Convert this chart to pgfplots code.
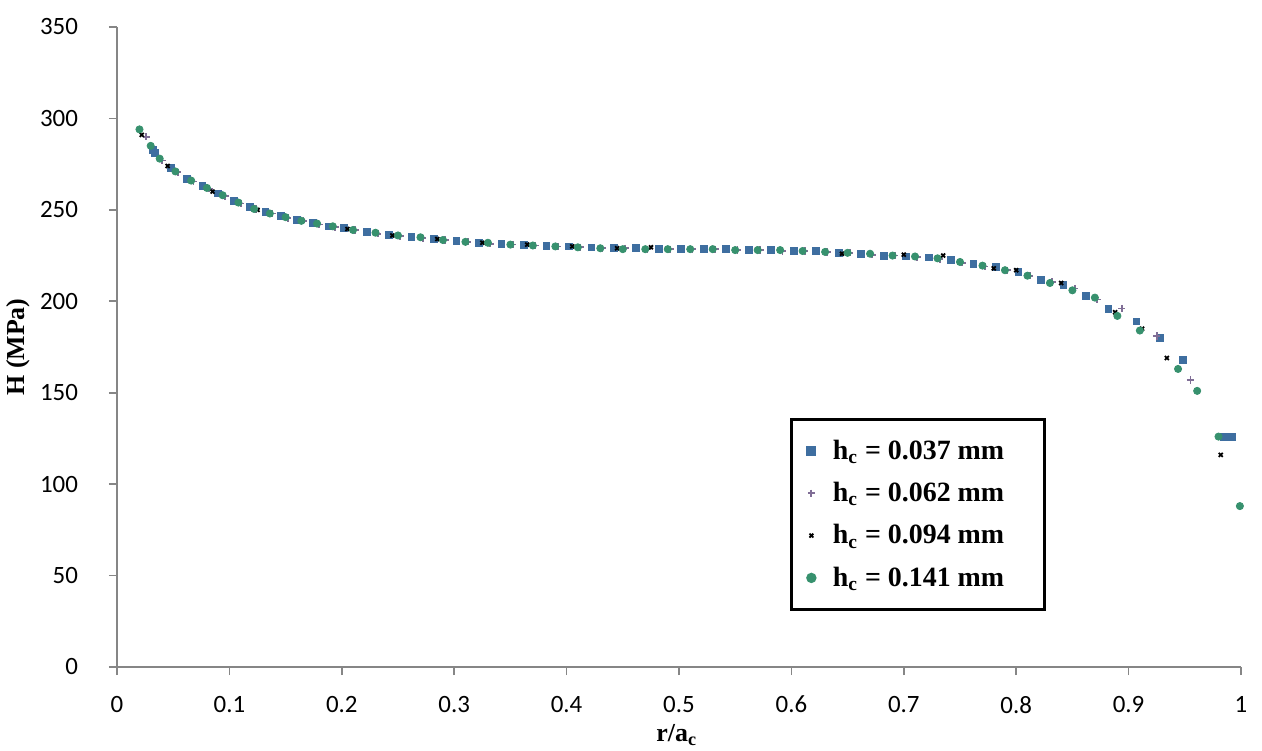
\documentclass[border=0pt]{standalone}
\usepackage{pgfplots}
\pgfplotsset{compat=1.18}
\usepackage{fontspec}
\setmainfont{Liberation Serif}
\newfontfamily\carlito{Carlito}

\definecolor{sqblue}{RGB}{62,110,160}
\definecolor{plpurple}{RGB}{128,110,150}
\definecolor{cigreen}{RGB}{55,145,110}
\definecolor{axgray}{RGB}{134,134,134}

\begin{document}
\begin{tikzpicture}
\begin{axis}[
  scale only axis,
  width=562bp, height=320bp,
  xmin=0, xmax=1, ymin=0, ymax=350,
  axis x line=bottom, axis y line=left,
  axis line style={-, axgray, line width=1bp},
  xtick={0,0.1,...,1.0}, ytick={0,50,...,350},
  tick align=outside, major tick length=4bp,
  tick style={axgray, line width=0.8bp},
  /pgf/number format/assume math mode=true,
  xticklabel style={font=\carlito\fontsize{12.5}{13}\selectfont, /pgf/number format/fixed, yshift=-7bp},
  yticklabel style={font=\carlito\fontsize{12.5}{13}\selectfont, xshift=-12bp},
  xlabel={\textbf{r/a\textsubscript{c}}},
  ylabel={\textbf{H (MPa)}},
  every axis x label/.style={at={(axis description cs:0.498,-0.106)}, anchor=center,
    font=\fontsize{13}{14}\selectfont},
  every axis y label/.style={at={(axis description cs:-0.088,0.5)}, rotate=90, anchor=center,
    font=\fontsize{13}{14}\selectfont},
  legend style={at={(axis cs:0.599,136)}, anchor=north west,
    draw=black, line width=1.5bp, font=\bfseries\fontsize{14}{15}\selectfont,
    row sep=6bp, column sep=7bp, inner xsep=8bp, inner ysep=8bp},
  legend cell align=left,
]
\addplot[only marks, mark=square*, mark size=1.7bp, color=sqblue] coordinates {
(0.032,283) (0.034,281) (0.048,273) (0.062,267) (0.076,263) (0.090,259)
(0.104,255) (0.118,251.5) (0.132,249) (0.146,246.5) (0.160,244.5) (0.174,243)
(0.188,241) (0.202,240) (0.222,238) (0.242,236.5) (0.262,235) (0.282,234)
(0.302,233) (0.322,232) (0.342,231.5) (0.362,231) (0.382,230.5) (0.402,230)
(0.422,229.5) (0.442,229) (0.462,229) (0.482,228.5) (0.502,228.5) (0.522,228.5)
(0.542,228.5) (0.562,228) (0.582,228) (0.602,227.5) (0.622,227.5) (0.642,226.5)
(0.662,226) (0.682,225) (0.702,224.5) (0.722,224) (0.742,222.5) (0.762,220.5)
(0.782,219) (0.802,216) (0.822,211.5) (0.842,209) (0.862,203) (0.882,196)
(0.907,189) (0.928,180) (0.948,168) (0.985,126) (0.992,126)
};
\addlegendentry{h\textsubscript{c} = 0.037 mm\hspace*{10bp}}
\addplot[only marks, mark=+, mark size=1.8bp, line width=0.9bp, color=plpurple] coordinates {
(0.026,290) (0.040,277) (0.054,270.5) (0.068,265.5) (0.082,261.5) (0.096,257.5)
(0.110,253.5) (0.124,250.5) (0.138,248) (0.152,245.5) (0.166,244) (0.180,242)
(0.194,240.5) (0.212,239) (0.232,237) (0.252,235.5) (0.272,234.5) (0.292,233.5)
(0.312,232.5) (0.332,231.5) (0.352,231) (0.372,230.5) (0.392,230) (0.412,229.5)
(0.432,229) (0.452,229) (0.472,228.5) (0.492,228.5) (0.512,228.5) (0.532,228.5)
(0.552,228) (0.572,228) (0.592,227.5) (0.612,227.5) (0.632,227) (0.652,226.5)
(0.672,225.5) (0.692,225) (0.712,224) (0.732,223) (0.752,221) (0.772,219)
(0.792,217) (0.812,214) (0.832,210.5) (0.852,207) (0.872,201) (0.894,196)
(0.925,181) (0.955,157)
};
\addlegendentry{h\textsubscript{c} = 0.062 mm}
\addplot[only marks, mark=x, mark size=1.4bp, line width=0.9bp, color=black] coordinates {
(0.022,291) (0.045,274) (0.085,260) (0.125,250) (0.165,244) (0.205,239.5)
(0.245,236) (0.285,234) (0.325,232) (0.365,231) (0.405,230) (0.445,229)
(0.475,229.5) (0.530,229) (0.570,228.5) (0.645,226) (0.700,225.5) (0.735,225)
(0.780,218) (0.800,217) (0.840,210) (0.888,194) (0.912,185) (0.934,169)
(0.982,116)
};
\addlegendentry{h\textsubscript{c} = 0.094 mm}
\addplot[only marks, mark=*, mark size=1.8bp, color=cigreen] coordinates {
(0.020,294) (0.030,285) (0.038,278) (0.052,271) (0.066,266) (0.080,262)
(0.094,258) (0.108,254) (0.122,250.5) (0.136,248) (0.150,246) (0.164,244)
(0.178,242.5) (0.192,241) (0.210,239) (0.230,237.5) (0.250,236) (0.270,235)
(0.290,233.5) (0.310,232.5) (0.330,232) (0.350,231) (0.370,230.5) (0.390,230)
(0.410,229.5) (0.430,229) (0.450,228.5) (0.470,228.5) (0.490,228.5) (0.510,228.5)
(0.530,228.5) (0.550,228) (0.570,228) (0.590,228) (0.610,227.5) (0.630,227)
(0.650,226.5) (0.670,226) (0.690,225) (0.710,224.5) (0.730,223.5) (0.750,221.5)
(0.770,219.5) (0.790,217) (0.810,214) (0.830,210) (0.850,206) (0.870,202)
(0.890,192) (0.910,184) (0.944,163) (0.961,151) (0.980,126) (0.999,88)
};
\addlegendentry{h\textsubscript{c} = 0.141 mm}
\end{axis}
\pgfresetboundingbox
\path (-58.5bp,-42bp) rectangle (572.5bp,333.5bp);
\end{tikzpicture}
\end{document}
